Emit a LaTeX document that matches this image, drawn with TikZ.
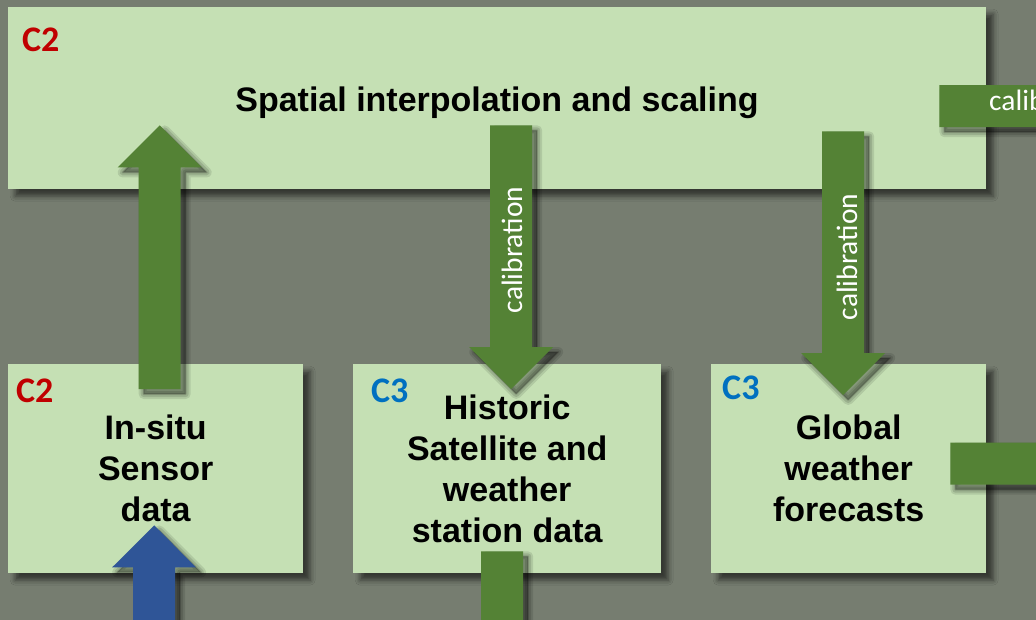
\documentclass[tikz,border=0pt]{standalone}
\usepackage{fontspec}
\setmainfont{Liberation Sans}
\newfontfamily\carlito{Carlito}
\usetikzlibrary{calc,shadows.blur}

\definecolor{canvas}{RGB}{118,125,112}
\definecolor{boxfill}{RGB}{197,224,180}
\definecolor{flowgreen}{RGB}{84,130,53}
\definecolor{flowblue}{RGB}{47,85,151}
\definecolor{tagred}{RGB}{192,0,0}
\definecolor{tagblue}{RGB}{0,112,192}

% outline of a block arrow from (fa-s) to (fa-e): shaft 42 wide, head 84 wide and 42 long
\def\fapath{($(fa-s)!21pt!90:(fa-e)$) -- ($(fa-b)!21pt!-90:(fa-s)$)
    -- ($(fa-b)!42pt!-90:(fa-s)$) -- (fa-e) -- ($(fa-b)!42pt!90:(fa-s)$)
    -- ($(fa-b)!21pt!90:(fa-s)$) -- ($(fa-s)!21pt!-90:(fa-e)$) -- cycle}

% block arrow with a soft drop shadow; #1 fill colour, #2 start, #3 tip
\newcommand\fatarrow[3]{%
  \coordinate (fa-s) at #2;
  \coordinate (fa-e) at #3;
  \coordinate (fa-b) at ($(fa-e)!42pt!(fa-s)$);
  \begin{scope}[transform canvas={xshift=5pt, yshift=-5pt}]
    \filldraw[flowshadow, opacity=.10, line width=10pt] \fapath;
    \filldraw[flowshadow, opacity=.12, line width=6pt] \fapath;
    \filldraw[flowshadow, opacity=.14, line width=2pt] \fapath;
  \end{scope}
  \fill[#1] \fapath;
}

\tikzset{
  box/.style={rectangle, fill=boxfill, anchor=north west, inner sep=0pt,
    blur shadow={shadow xshift=7pt, shadow yshift=-7pt,
      shadow blur radius=5pt, shadow opacity=55}},
  boxtext/.style={font=\bfseries\fontsize{34}{41}\selectfont, align=center, text=black},
  tag/.style={inner sep=0pt, anchor=base west, font=\carlito\bfseries\fontsize{36}{36}\selectfont},
  callabel/.style={inner sep=0pt, text=white, font=\carlito\fontsize{29.5}{30}\selectfont},
  flowshadow/.style={fill=black, draw=black, line join=round},
}

\begin{document}
\begin{tikzpicture}[x=1pt, y=-1pt]
  \path[use as bounding box, fill=canvas] (0,0) rectangle (1036,620);

  % boxes
  \node[box, minimum width=978pt, minimum height=182pt] (spatial) at (8,7) {};
  \node[box, boxtext, minimum width=295pt, minimum height=209pt] (insitu) at (8,364)
    {In-situ\\Sensor\\data};
  \node[box, boxtext, minimum width=308pt, minimum height=209pt] (historic) at (353,364)
    {Historic\\Satellite and\\weather\\station data};
  \node[box, boxtext, minimum width=275pt, minimum height=209pt] (global) at (711,364)
    {Global\\weather\\forecasts};

  \node[boxtext, inner sep=0pt, anchor=base] (spatialtext) at (497,112)
    {Spatial interpolation and scaling};

  % group tags
  \node[tag, text=tagred] (tagspatial) at (22,52) {C2};
  \node[tag, text=tagred] (taginsitu) at (16,402) {C2};
  \node[tag, text=tagblue] (taghistoric) at (371,402) {C3};
  \node[tag, text=tagblue] (tagglobal) at (722,399) {C3};

  % free ends of the flows leaving the picture
  \coordinate (bluefoot) at (154,680);
  \coordinate (histfoot) at (502,740);
  \coordinate (globalout) at (1200,463.5);
  \coordinate (calibout) at (1250,106);

  % flows
  \fatarrow{flowgreen}{($(insitu.north)+(4,25)$)}{($(insitu.north |- spatial.south)+(4,-64)$)}
  \fatarrow{flowgreen}{($(historic.north |- spatial.south)+(4,-64)$)}{($(historic.north)+(4,25)$)}
  \fatarrow{flowgreen}{($(global.north |- spatial.south)+(-5.5,-58)$)}{($(global.north)+(-5.5,31)$)}
  \fatarrow{flowblue}{(bluefoot)}{($(insitu.south)+(-1.5,-48)$)}
  \fatarrow{flowgreen}{($(historic.south)+(-5,-22)$)}{(histfoot)}
  \fatarrow{flowgreen}{($(global.east)+(-36,-5)$)}{(globalout)}
  \fatarrow{flowgreen}{($(spatial.east)+(-47,8)$)}{(calibout)}

  % flow labels
  \node[callabel, rotate=90] (cal1text) at (512,250) {calibration};
  \node[callabel, rotate=90] (cal2text) at (847,257) {calibration};
  \node[callabel, anchor=base west] (cal3text) at (989,111) {calibration};
\end{tikzpicture}
\end{document}
